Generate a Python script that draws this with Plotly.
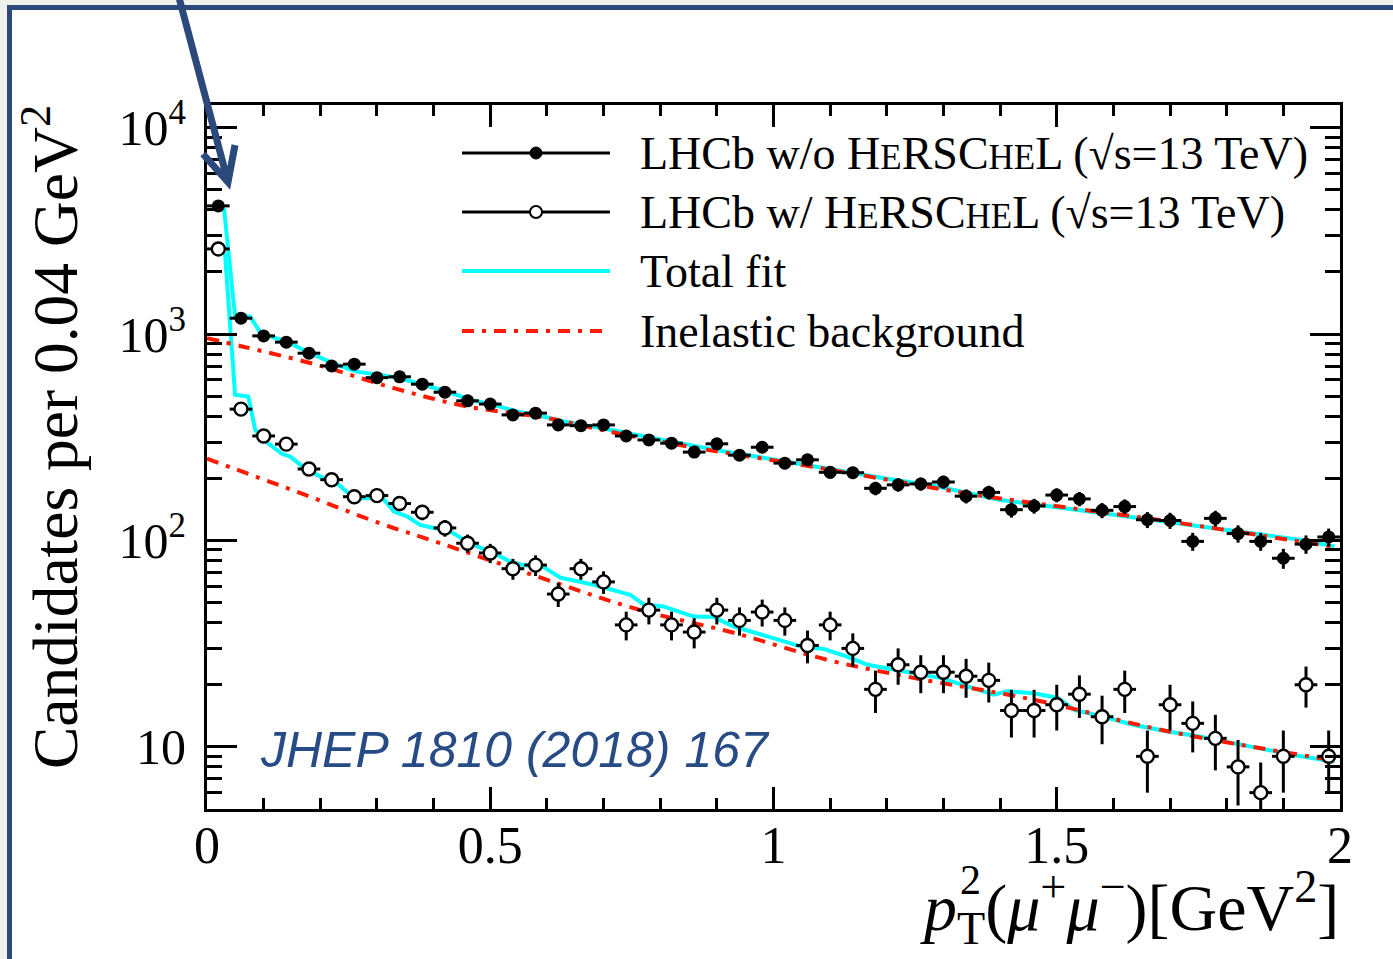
import plotly.graph_objects as go

# ---------------- data ----------------
bin_centers = [0.02, 0.06, 0.10, 0.14, 0.18, 0.22, 0.26, 0.30, 0.34, 0.38,
               0.42, 0.46, 0.50, 0.54, 0.58, 0.62, 0.66, 0.70, 0.74, 0.78,
               0.82, 0.86, 0.90, 0.94, 0.98, 1.02, 1.06, 1.10, 1.14, 1.18,
               1.22, 1.26, 1.30, 1.34, 1.38, 1.42, 1.46, 1.50, 1.54, 1.58,
               1.62, 1.66, 1.70, 1.74, 1.78, 1.82, 1.86, 1.90, 1.94, 1.98]
half_bin = [0.02] * 50

wo_herschel = [4180, 1194, 980, 914, 808, 701, 715, 615, 621, 572,
               523, 475, 458, 406, 414, 363, 360, 363, 321, 307,
               296, 268, 294, 259, 283, 237, 246, 214, 213, 179,
               186, 188, 192, 164, 171, 141, 147, 166, 159, 140,
               146, 126, 125, 99, 128, 108, 99, 82, 96, 104]
wo_err = [64.7, 34.6, 31.3, 30.2, 28.4, 26.5, 26.7, 24.8, 24.9, 23.9,
          22.9, 21.8, 21.4, 20.1, 20.3, 19.1, 19.0, 19.1, 17.9, 17.5,
          17.2, 16.4, 17.1, 16.1, 16.8, 15.4, 15.7, 14.6, 14.6, 13.4,
          13.6, 13.7, 13.9, 12.8, 13.1, 11.9, 12.1, 12.9, 12.6, 11.8,
          12.1, 11.2, 11.2, 9.9, 11.3, 10.4, 9.9, 9.1, 9.8, 10.2]

w_herschel = [2586, 433, 321, 293, 222, 197, 163, 165, 151, 137,
              115, 97, 87, 73, 76, 55, 73, 63, 39, 46,
              39, 36, 46, 41, 45, 41, 31, 39, 30, 19,
              25, 23, 23, 22, 21, 15, 15, 16, 18, 14,
              19, 9, 16, 13, 11, 8, 6, 9, 20, 9]
w_err = [50.9, 20.8, 17.9, 17.1, 14.9, 14.0, 12.8, 12.8, 12.3, 11.7,
         10.7, 9.8, 9.3, 8.5, 8.7, 7.4, 8.5, 7.9, 6.2, 6.8,
         6.2, 6.0, 6.8, 6.4, 6.7, 6.4, 5.6, 6.2, 5.5, 4.4,
         5.0, 4.8, 4.8, 4.7, 4.6, 3.9, 3.9, 4.0, 4.2, 3.7,
         4.4, 3.0, 4.0, 3.6, 3.3, 2.8, 2.4, 3.0, 4.5, 3.0]

fit_wo_x = [0.030, 0.0495, 0.076, 0.095, 0.141, 0.182, 0.223, 0.264, 0.306, 0.341,
            0.382, 0.424, 0.465, 0.506, 0.547, 0.588, 0.630, 0.665, 0.70, 0.80,
            0.90, 1.00, 1.10, 1.20, 1.283, 1.401, 1.578, 1.754, 1.931, 1.99]
fit_wo_y = [4076, 1216, 1216, 1009, 920, 808, 722, 658, 634, 611,
            567, 527, 480, 454, 422, 402, 377, 363, 349, 309,
            274, 247, 221, 199, 184, 157, 136, 117, 100.7, 93.5]

fit_w_x = [0.0318, 0.0495, 0.073, 0.085, 0.0995, 0.132, 0.147, 0.170, 0.200, 0.229,
           0.253, 0.270, 0.309, 0.330, 0.353, 0.376, 0.400, 0.424, 0.453, 0.477,
           0.506, 0.535, 0.559, 0.594, 0.624, 0.683, 0.747, 0.771, 0.806, 0.859,
           0.894, 0.930, 0.989, 1.048, 1.089, 1.130, 1.166, 1.213, 1.260, 1.295,
           1.353, 1.389, 1.412, 1.459, 1.501, 1.531, 1.578, 1.635, 1.694, 1.754,
           1.813, 1.872, 1.931, 1.990]
fit_w_y = [2466, 508, 498, 344, 308, 263, 255, 227, 204, 190,
           166, 160, 162, 138, 131, 119, 115, 113, 101, 93.5,
           87, 79, 76, 74.3, 66, 61, 54.6, 48.9, 47.9, 42.8,
           42.6, 38.3, 34.3, 30.7, 29.8, 27.4, 25.0, 23.6, 22.4, 21.6,
           19.3, 17.9, 18.6, 18.2, 17.3, 15.1, 14.1, 12.8, 11.9, 11.2,
           10.4, 9.7, 9.0, 8.5]

bkg_wo_x = [0.0, 0.064, 0.194, 0.33, 0.459, 0.60, 0.724, 0.883, 1.048, 1.201, 1.36, 1.695, 1.99]
bkg_wo_y = [955, 869, 710, 547, 446, 392, 331, 275, 233, 197, 166, 124, 93]

bkg_w_x = [0.0, 0.164, 0.306, 0.412, 0.611, 0.765, 0.93, 1.095, 1.247, 1.46, 1.696, 1.99]
bkg_w_y = [249, 170, 121, 97, 63, 46, 35.7, 26.4, 21.6, 16.9, 11.9, 8.6]

x_ticks = [0, 0.5, 1, 1.5, 2]
x_ticktext = ["0", "0.5", "1", "1.5", "2"]
y_ticks = [10, 100, 1000, 10000]
y_ticktext = ["10", "10<sup>2</sup>", "10<sup>3</sup>", "10<sup>4</sup>"]

# ---------------- layout helpers (pixel -> paper) ----------------
W, H = 1393, 959
L, R, T, B = 207, 53, 105, 150
PW, PH = W - L - R, H - T - B


def px(xp):
    return (xp - L) / PW


def py(yp):
    return (H - B - yp) / PH


SERIF = "Liberation Serif, Times New Roman, serif"
BLUE = "#2b4a7b"
DASHDOT = "12px,8px,4px,8px"

fig = go.Figure()

# fits
fig.add_trace(go.Scatter(x=fit_wo_x, y=fit_wo_y, mode="lines",
                         line=dict(color="#00ffff", width=4), showlegend=False))
fig.add_trace(go.Scatter(x=fit_w_x, y=fit_w_y, mode="lines",
                         line=dict(color="#00ffff", width=4), showlegend=False))
fig.add_trace(go.Scatter(x=bkg_wo_x, y=bkg_wo_y, mode="lines", line_shape="spline",
                         line=dict(color="#ff1a00", width=4, dash=DASHDOT),
                         showlegend=False))
fig.add_trace(go.Scatter(x=bkg_w_x, y=bkg_w_y, mode="lines", line_shape="spline",
                         line=dict(color="#ff1a00", width=4, dash=DASHDOT),
                         showlegend=False))

# data
fig.add_trace(go.Scatter(
    x=bin_centers, y=wo_herschel, mode="markers",
    marker=dict(symbol="circle", size=13, color="black"),
    error_x=dict(type="data", array=half_bin, color="black", thickness=3, width=0),
    error_y=dict(type="data", array=wo_err, color="black", thickness=3, width=0),
    showlegend=False))
fig.add_trace(go.Scatter(
    x=bin_centers, y=w_herschel, mode="markers",
    marker=dict(symbol="circle", size=13, color="white", line=dict(color="black", width=2.4)),
    error_x=dict(type="data", array=half_bin, color="black", thickness=3, width=0),
    error_y=dict(type="data", array=w_err, color="black", thickness=3, width=0),
    showlegend=False))

shapes = []
annotations = []

# slide frame
shapes.append(dict(type="rect", xref="paper", yref="paper",
                   x0=px(9.5), x1=px(1450), y0=py(1050), y1=py(7.5),
                   line=dict(color=BLUE, width=5), fillcolor="white", layer="below"))

# legend (manual, to match long line samples)
rows = [153, 212, 271, 331]
lx0, lx1, lxm = 462, 610, 536
shapes.append(dict(type="line", xref="paper", yref="paper", x0=px(lx0), x1=px(lx1),
                   y0=py(rows[0]), y1=py(rows[0]), line=dict(color="black", width=3)))
shapes.append(dict(type="circle", xref="paper", yref="paper", xsizemode="pixel", ysizemode="pixel",
                   xanchor=px(lxm), yanchor=py(rows[0]), x0=-6, x1=6, y0=-6, y1=6,
                   fillcolor="black", line=dict(color="black", width=1)))
shapes.append(dict(type="line", xref="paper", yref="paper", x0=px(lx0), x1=px(lx1),
                   y0=py(rows[1]), y1=py(rows[1]), line=dict(color="black", width=3)))
shapes.append(dict(type="circle", xref="paper", yref="paper", xsizemode="pixel", ysizemode="pixel",
                   xanchor=px(lxm), yanchor=py(rows[1]), x0=-6, x1=6, y0=-6, y1=6,
                   fillcolor="white", line=dict(color="black", width=2)))
shapes.append(dict(type="line", xref="paper", yref="paper", x0=px(lx0), x1=px(lx1),
                   y0=py(rows[2]), y1=py(rows[2]), line=dict(color="#00ffff", width=4)))
shapes.append(dict(type="line", xref="paper", yref="paper", x0=px(lx0), x1=px(605),
                   y0=py(rows[3]), y1=py(rows[3]),
                   line=dict(color="#ff1a00", width=4, dash=DASHDOT)))

sc = "<span style='font-size:35px'>%s</span>"
herschel = "H" + sc % "E" + "RSC" + sc % "HE" + "L"
legend_texts = [
    "LHCb w/o " + herschel + " (√s=13 TeV)",
    "LHCb w/ " + herschel + " (√s=13 TeV)",
    "Total fit",
    "Inelastic background",
]
for r, t in zip(rows, legend_texts):
    annotations.append(dict(x=px(638), y=py(r), xref="paper", yref="paper", text=t,
                            showarrow=False, xanchor="left", yanchor="middle",
                            font=dict(family=SERIF, size=46, color="black")))

# axis titles
annotations.append(dict(x=px(50), y=py(437), xref="paper", yref="paper",
                        text="Candidates per 0.04 GeV<sup>2</sup>", textangle=-90,
                        showarrow=False, xanchor="center", yanchor="middle",
                        font=dict(family=SERIF, size=63.5, color="black")))
annotations.append(dict(x=px(918), y=py(907), xref="paper", yref="paper",
                        text="<i>p</i><sub>T</sub>(<i>μ</i><sup>+</sup><i>μ</i><sup>−</sup>)[GeV<sup>2</sup>]",
                        showarrow=False, xanchor="left", yanchor="middle",
                        font=dict(family=SERIF, size=66, color="black")))
annotations.append(dict(x=px(970), y=py(880), xref="paper", yref="paper",
                        text="2", showarrow=False, xanchor="center", yanchor="middle",
                        font=dict(family=SERIF, size=42, color="black")))

# reference label
annotations.append(dict(x=px(515), y=py(750), xref="paper", yref="paper",
                        text="<i>JHEP 1810 (2018) 167</i>", showarrow=False,
                        xanchor="center", yanchor="middle",
                        font=dict(family="Liberation Sans, Arial, sans-serif", size=50, color="#274b85")))

# arrow
arrow_path = "M %f %f L %f %f M %f %f L %f %f L %f %f" % (
    px(177), py(-10), px(228), py(182),
    px(203), py(154), px(228), py(182), px(235), py(145))
shapes.append(dict(type="path", xref="paper", yref="paper", path=arrow_path,
                   line=dict(color=BLUE, width=7), layer="above"))

minor_y = []
for d in [1, 10, 100, 1000]:
    for m in range(2, 10):
        minor_y.append(m * d)

fig.update_layout(
    width=W, height=H,
    margin=dict(l=L, r=R, t=T, b=B, autoexpand=False),
    paper_bgcolor="#f1f1ec",
    plot_bgcolor="rgba(0,0,0,0)",
    showlegend=False,
    shapes=shapes,
    annotations=annotations,
    xaxis=dict(range=[0, 2], tickmode="array", tickvals=x_ticks, ticktext=x_ticktext,
               ticks="inside", ticklen=22, tickwidth=2.5, tickcolor="black",
               showline=True, linewidth=3, linecolor="black", mirror="allticks",
               showgrid=False, zeroline=False, ticklabelstandoff=-11,
               tickfont=dict(family=SERIF, size=52, color="black"),
               minor=dict(ticks="inside", ticklen=11, tickwidth=2.5, tickcolor="black",
                          tick0=0, dtick=0.1, showgrid=False)),
    yaxis=dict(type="log", range=[0.699, 4.11], tickmode="array", tickvals=y_ticks,
               ticktext=y_ticktext,
               ticks="inside", ticklen=30, tickwidth=2.5, tickcolor="black",
               showline=True, linewidth=3, linecolor="black", mirror="allticks",
               showgrid=False, zeroline=False, ticklabelstandoff=8,
               tickfont=dict(family=SERIF, size=50, color="black"),
               minor=dict(ticks="inside", ticklen=15, tickwidth=2.5, tickcolor="black",
                          tickmode="array", tickvals=minor_y, showgrid=False)),
)

fig.write_html("out.html", config={"displayModeBar": False},
               post_script="document.body.style.margin='0';document.body.style.padding='0';"
                           "document.body.style.background='#f1f1ec';document.body.style.overflow='hidden';")
